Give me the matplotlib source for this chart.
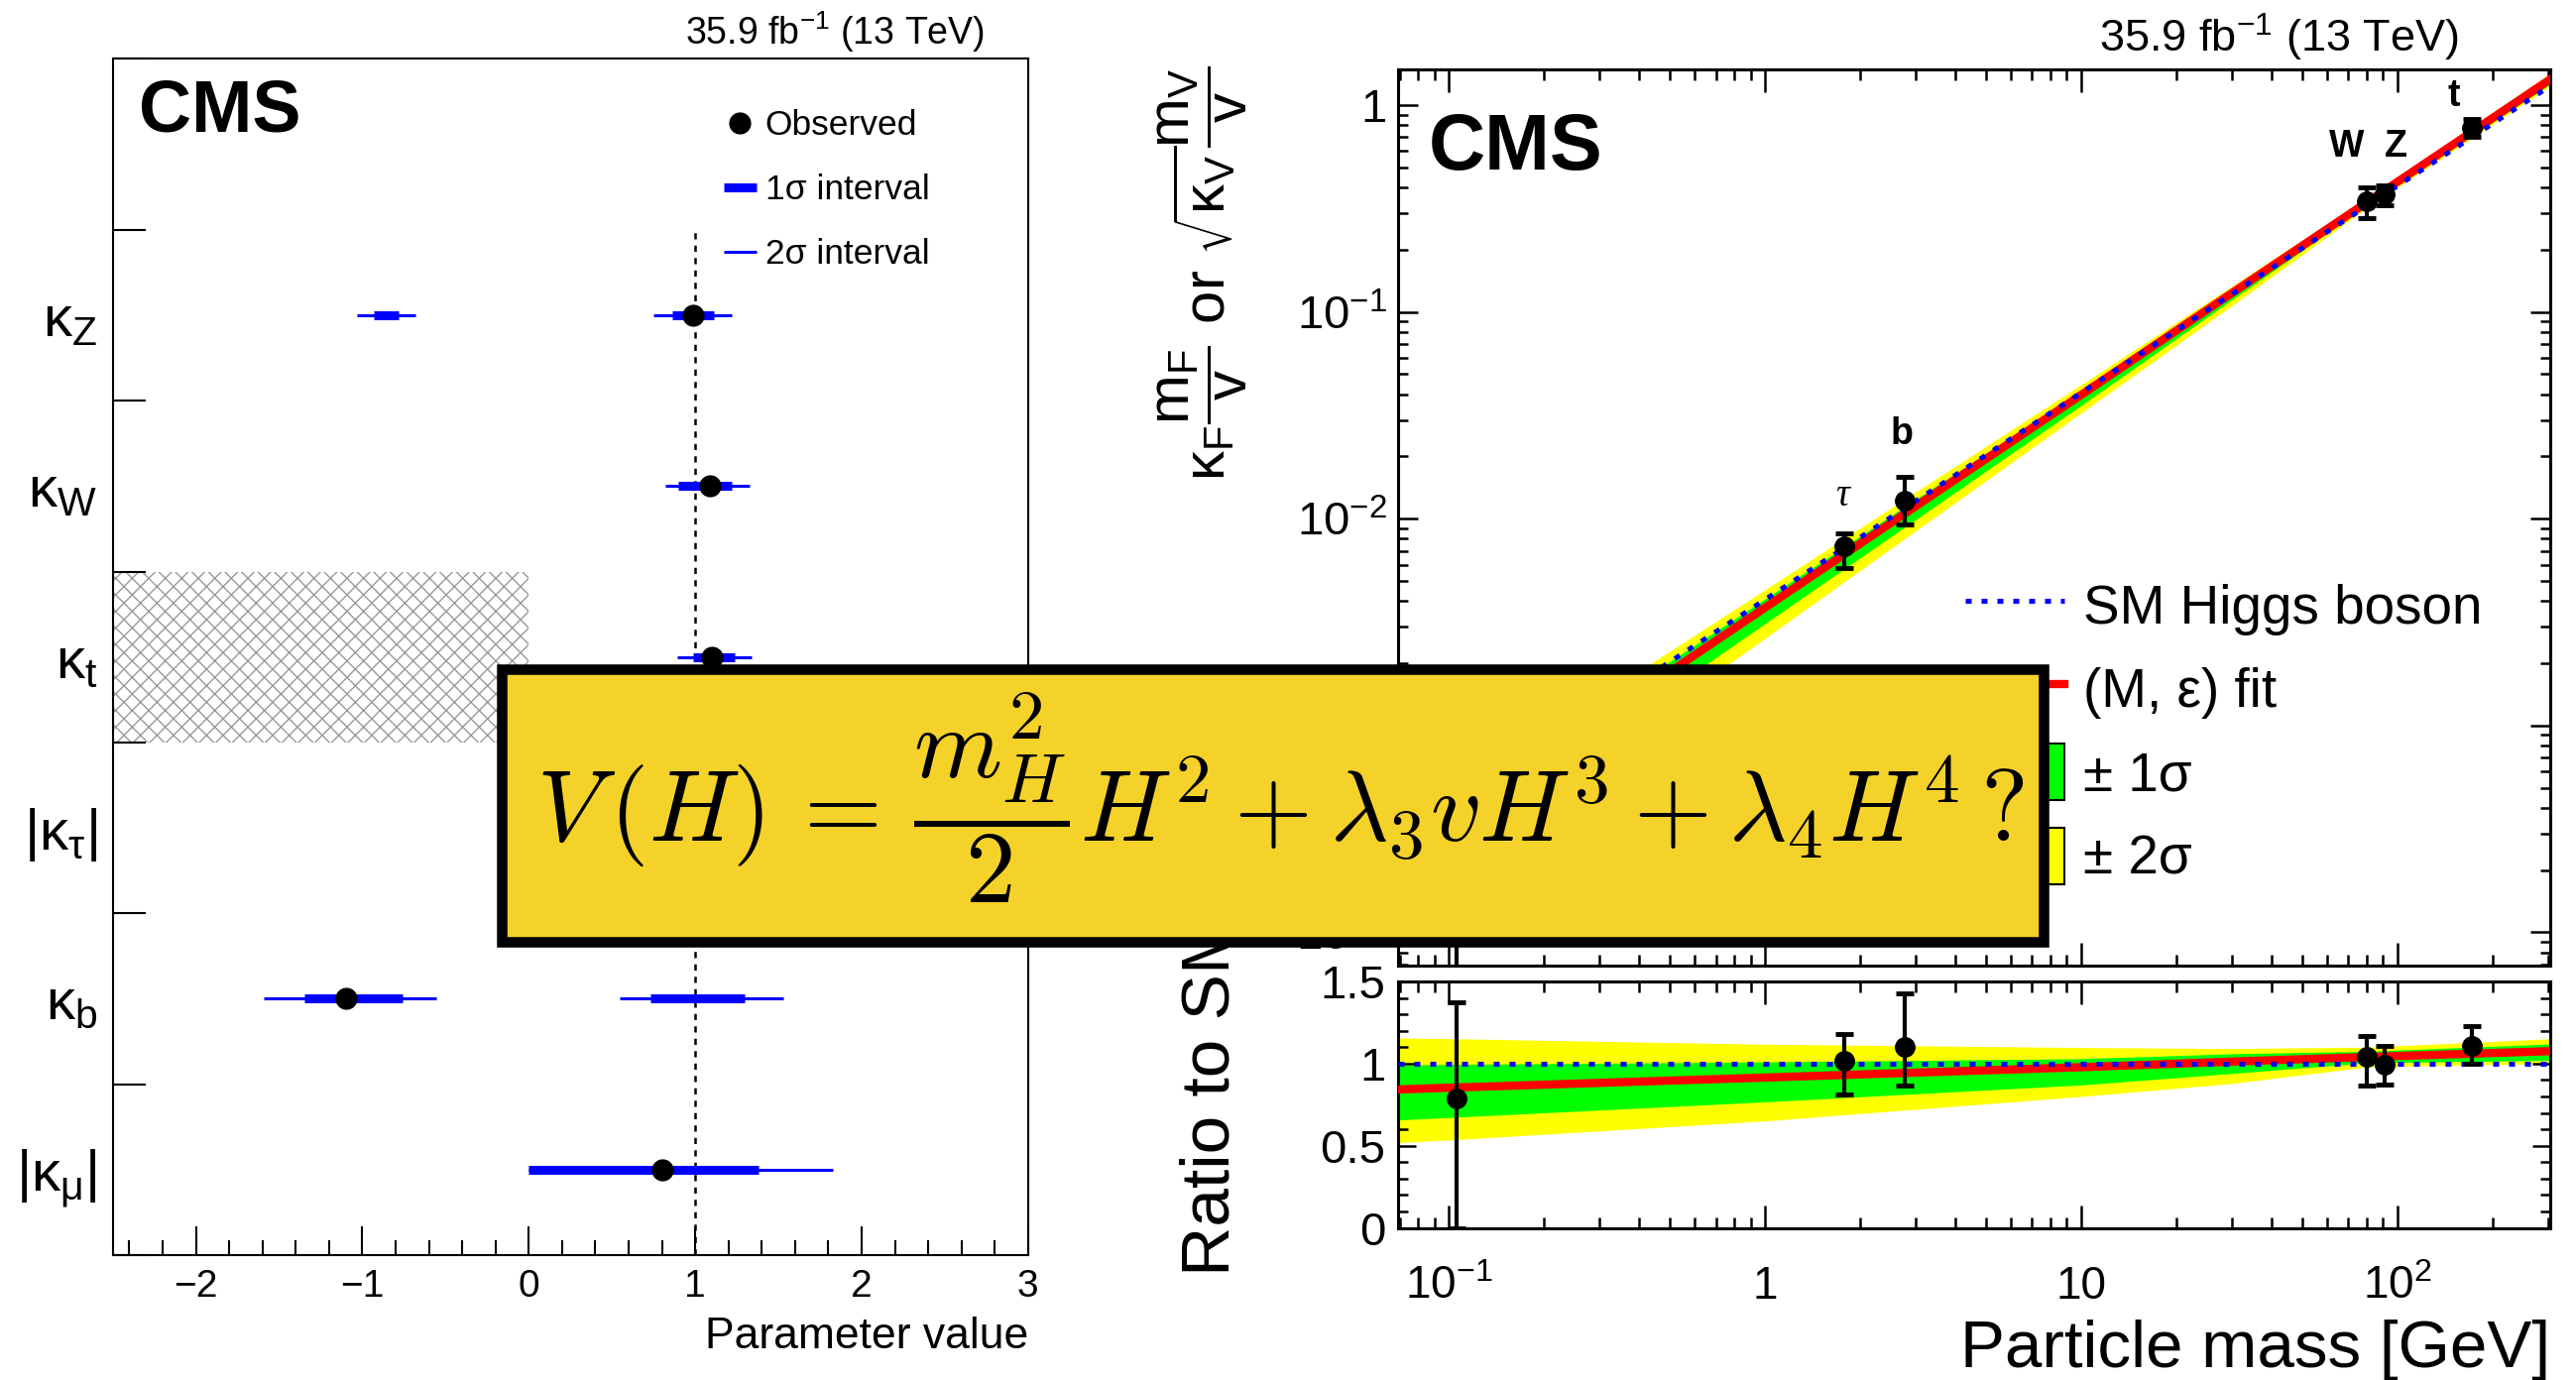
import numpy as np
import matplotlib
matplotlib.use('Agg')
import matplotlib.pyplot as plt
from matplotlib.patches import Rectangle, Patch
from matplotlib.lines import Line2D
from matplotlib.ticker import MultipleLocator, LogLocator, NullFormatter

plt.rcParams['font.family'] = ['Liberation Sans', 'DejaVu Sans']

# ---- left panel: coupling modifiers (bottom to top)
params = [r'$\mathregular{|\kappa_\mu|}$', r'$\mathregular{\kappa_b}$', r'$\mathregular{|\kappa_\tau|}$',
          r'$\mathregular{\kappa_t}$', r'$\mathregular{\kappa_W}$', r'$\mathregular{\kappa_Z}$']
best = [0.80, -1.10, 1.01, 1.10, 1.09, 0.985]
sig1_lo = [0.0, -1.35, 0.84, 0.985, 0.90, 0.86]
sig1_hi = [1.38, -0.76, 1.17, 1.24, 1.22, 1.11]
sig2_lo = [0.0, -1.59, 0.68, 0.89, 0.82, 0.75]
sig2_hi = [1.83, -0.555, 1.33, 1.34, 1.33, 1.22]
# secondary intervals (no best-fit marker)
alt_row = [1, 5]
alt_sig1_lo = [0.73, -0.93]
alt_sig1_hi = [1.30, -0.78]
alt_sig2_lo = [0.545, -1.03]
alt_sig2_hi = [1.53, -0.68]
hatch_x = [-2.5, 0.0]
hatch_row = 3
sm_value = 1.0

# ---- right panel: mass scaling
particles = ['μ', 'τ', 'b', 'W', 'Z', 't']
mass = [0.1057, 1.777, 2.76, 80.4, 91.2, 172.5]
main_y = [3.4e-4, 7.34e-3, 1.23e-2, 0.343, 0.370, 0.776]
main_lo = [1e-6, 5.8e-3, 9.4e-3, 0.284, 0.329, 0.70]
main_hi = [5.9e-4, 8.5e-3, 1.6e-2, 0.40, 0.41, 0.86]
ratio_y = [0.79, 1.015, 1.10, 1.044, 0.994, 1.105]
ratio_lo = [0.0, 0.81, 0.865, 0.868, 0.874, 1.0]
ratio_hi = [1.375, 1.18, 1.43, 1.166, 1.105, 1.227]

band_mass = [0.068, 0.1, 1, 10, 30, 80, 310]
sm_line = np.array([2.76e-4, 4.06e-4, 4.06e-3, 4.06e-2, 0.122, 0.325, 1.26])
ratio_fit = np.array([0.842, 0.853, 0.915, 0.978, 1.012, 1.04, 1.076])
band1_lo = np.array([0.656, 0.672, 0.767, 0.87, 0.94, 1.005, 1.02])
band1_hi = np.array([0.99, 0.995, 1.01, 1.03, 1.06, 1.075, 1.12])
band2_lo = np.array([0.518, 0.535, 0.651, 0.80, 0.879, 0.98, 1.0])
band2_hi = np.array([1.156, 1.152, 1.118, 1.098, 1.092, 1.10, 1.152])

W, H = 2598, 1392
fig = plt.figure(figsize=(W / 100, H / 100), dpi=100)

# ================= left panel
ax1 = fig.add_axes([113.6 / W, 1 - 1266 / H, 923.2 / W, 1206.6 / H])
rows = np.arange(len(params)) + 0.5
alt_y = rows[alt_row]
ax1.fill_between(hatch_x, hatch_row, hatch_row + 1, facecolor='none', edgecolor='#999999',
                 hatch='xx', linewidth=0, zorder=1)
ax1.vlines(sm_value, 0, len(params), colors='black', linestyles=(0, (2.5, 2.5)), lw=1.8, zorder=2)
ax1.hlines(rows, sig2_lo, sig2_hi, color='blue', lw=2.2, zorder=3)
ax1.hlines(alt_y, alt_sig2_lo, alt_sig2_hi, color='blue', lw=2.2, zorder=3)
ax1.hlines(rows, sig1_lo, sig1_hi, color='blue', lw=6.5, zorder=4)
ax1.hlines(alt_y, alt_sig1_lo, alt_sig1_hi, color='blue', lw=6.5, zorder=4)
ax1.plot(best, rows, 'o', color='black', ms=15, zorder=5)

ax1.set_xlim(-2.5, 3)
ax1.set_ylim(0, len(params) + 1)
ax1.xaxis.set_major_locator(MultipleLocator(1))
ax1.xaxis.set_minor_locator(MultipleLocator(0.2))
ax1.set_yticks(range(len(params) + 2))
ax1.set_yticklabels([])
ax1.set_yticks(rows, minor=True)
ax1.set_yticklabels(params, minor=True)
ax1.tick_params(axis='x', which='major', direction='in', length=21, width=1.5, labelsize=28, pad=10)
ax1.tick_params(axis='x', which='minor', direction='in', length=11, width=1.5)
ax1.tick_params(axis='y', which='major', direction='in', length=24, width=1.5)
ax1.tick_params(axis='y', which='minor', length=0, labelsize=42, pad=11)
for s in ax1.spines.values():
    s.set_linewidth(1.5)
ax1.text(1.0, -0.0779, 'Parameter value', transform=ax1.transAxes, ha='right', va='baseline', fontsize=32)
ax1.text(0.0286, 0.9398, 'CMS', transform=ax1.transAxes, fontsize=53, fontweight='bold', va='baseline')

h_left = [Line2D([], [], marker='o', ls='none', color='black', ms=15),
          Line2D([], [], color='blue', lw=6.5, solid_capstyle='butt'),
          Line2D([], [], color='blue', lw=2.2, solid_capstyle='butt')]
ax1.legend(h_left, ['Observed', '1σ interval', '2σ interval'], loc='upper left',
           bbox_to_anchor=(0.6677, 0.9577), frameon=False, fontsize=25.5, handlelength=0.93,
           handletextpad=0.25, labelspacing=0.9, borderpad=0, borderaxespad=0, numpoints=1)
fig.text(992.6 / W, 1 - 44.6 / H, r'35.9 fb$^{\mathregular{-1}}$ (13 TeV)', ha='right', va='baseline', fontsize=27)

# ================= right panel
axm = fig.add_axes([1410 / W, 1 - 974 / H, 1162 / W, 904 / H])
axr = fig.add_axes([1410 / W, 1 - 1238.5 / H, 1162 / W, 248.5 / H], sharex=axm)
dots = (0, (1.2, 2.0))

axm.fill_between(band_mass, sm_line * band2_lo, sm_line * band2_hi, color='#ffff00', lw=0, zorder=1)
axm.fill_between(band_mass, sm_line * band1_lo, sm_line * band1_hi, color='#00ff00', lw=0, zorder=2)
axm.plot(band_mass, sm_line * ratio_fit, color='red', lw=6, zorder=3)
axm.plot(band_mass, sm_line, color='blue', lw=3.6, ls=dots, zorder=4)
axm.errorbar(mass, main_y, yerr=[np.array(main_y) - main_lo, np.array(main_hi) - main_y], fmt='o',
             color='black', ms=14, elinewidth=3, capsize=6.5, capthick=3.5, zorder=5)

lab_off = [(0, 50), (-2, 51), (-3, 67), (-21, 55), (11, 48), (-18, 32)]
for p, m, y, off in zip(particles, mass, main_y, lab_off):
    if p == 'τ':
        kw = dict(family='Liberation Serif', style='italic', fontsize=28)
    else:
        kw = dict(fontweight='bold', fontsize=27)
    axm.annotate(p, (m, y), xytext=off, textcoords='offset pixels', ha='center', va='center', **kw)

axm.set_xscale('log')
axm.set_yscale('log')
axm.set_xlim(0.069, 305)
axm.set_ylim(6.9e-5, 1.49)
axm.set_yticks([1e-4, 1e-3, 1e-2, 1e-1, 1],
               [r'$\mathregular{10^{-4}}$', r'$\mathregular{10^{-3}}$', r'$\mathregular{10^{-2}}$',
                r'$\mathregular{10^{-1}}$', '1'])
axm.yaxis.set_minor_locator(LogLocator(base=10, subs=np.arange(2, 10), numticks=20))
axm.yaxis.set_minor_formatter(NullFormatter())
axm.tick_params(which='both', direction='in', top=True, right=True, labelbottom=False)
axm.tick_params(axis='x', which='major', length=16.5, width=1.8)
axm.tick_params(axis='x', which='minor', length=8, width=1.8)
axm.tick_params(axis='y', which='major', length=14.5, width=1.8, labelsize=34, pad=8)
axm.tick_params(axis='y', which='minor', length=7, width=1.8)
axm.text(0.0267, 0.888, 'CMS', transform=axm.transAxes, fontsize=57, fontweight='bold', va='baseline')

h_right = [Line2D([], [], color='blue', lw=3.6, ls=dots),
           Line2D([], [], color='red', lw=6),
           Patch(facecolor='#00ff00', edgecolor='black', lw=1.5),
           Patch(facecolor='#ffff00', edgecolor='black', lw=1.5)]
axm.legend(h_right, ['SM Higgs boson', '(M, ε) fit', '± 1σ', '± 2σ'], loc='upper left',
           bbox_to_anchor=(0.4923, 0.4336), frameon=False, fontsize=39.5, handlelength=1.82,
           handleheight=1.22, handletextpad=0.35, labelspacing=0.46, borderpad=0, borderaxespad=0)

axr.fill_between(band_mass, band2_lo, band2_hi, color='#ffff00', lw=0, zorder=1)
axr.fill_between(band_mass, band1_lo, band1_hi, color='#00ff00', lw=0, zorder=2)
axr.plot(band_mass, ratio_fit, color='red', lw=6, zorder=3)
axr.axhline(sm_value, color='blue', lw=3.6, ls=dots, zorder=4)
axr.errorbar(mass, ratio_y, yerr=[np.array(ratio_y) - ratio_lo, np.array(ratio_hi) - ratio_y], fmt='o',
             color='black', ms=14, elinewidth=3, capsize=6.5, capthick=3.5, zorder=5)
axr.set_ylim(0, 1.5)
axr.set_yticks([0, 0.5, 1, 1.5], ['0', '0.5', '1', '1.5'])
axr.yaxis.set_minor_locator(MultipleLocator(0.1))
axr.set_xticks([0.1, 1, 10, 100], [r'$\mathregular{10^{-1}}$', '1', '10', r'$\mathregular{10^{2}}$'])
axr.xaxis.set_minor_locator(LogLocator(base=10, subs=np.arange(2, 10), numticks=20))
axr.xaxis.set_minor_formatter(NullFormatter())
axr.set_xlim(0.069, 305)
axr.tick_params(which='both', direction='in', top=True, right=True)
axr.tick_params(axis='x', which='major', length=16.5, width=1.8, labelsize=33, pad=51.5)
axr.tick_params(axis='x', which='minor', length=8, width=1.8)
axr.tick_params(axis='y', which='major', length=13, width=1.8, labelsize=34, pad=9)
axr.tick_params(axis='y', which='minor', length=7, width=1.8)
plt.setp(axr.get_xticklabels(), va='baseline')
axr.text(1.0, -0.5654, 'Particle mass [GeV]', transform=axr.transAxes, ha='right', va='baseline', fontsize=48.5)
for a in (axm, axr):
    for s in a.spines.values():
        s.set_linewidth(2.2)

fig.text(1212.5 / W, 1 - 67 / H,
         r'$\mathregular{\kappa_F\dfrac{m_F}{v}}$ or $\mathregular{\sqrt{\kappa_V}\dfrac{m_V}{v}}$',
         rotation=90, ha='center', va='top', fontsize=43)
fig.text(1222 / W, 1 - 1287 / H, 'Ratio to SM', rotation=90, ha='center', va='bottom', fontsize=50)
fig.text(2480 / W, 1 - 52.7 / H, r'35.9 fb$^{\mathregular{-1}}$ (13 TeV)', ha='right', va='baseline', fontsize=32.5)

# ================= formula box on top
fig.patches.append(Rectangle((506.3 / W, 1 - 950 / H), 1554.7 / W, 275.5 / H, transform=fig.transFigure,
                             facecolor='#f4d22a', edgecolor='black', lw=7.6, zorder=10, figure=fig))
fig.text(1291.5 / W, 1 - 804 / H,
         r'$V\,(H)\,=\,\dfrac{m_H^2}{2}H^2 + \lambda_3 v H^3 + \lambda_4 H^4\,?$',
         ha='center', va='center', fontsize=73, math_fontfamily='cm', zorder=11)

fig.savefig('out.png', dpi=100)
